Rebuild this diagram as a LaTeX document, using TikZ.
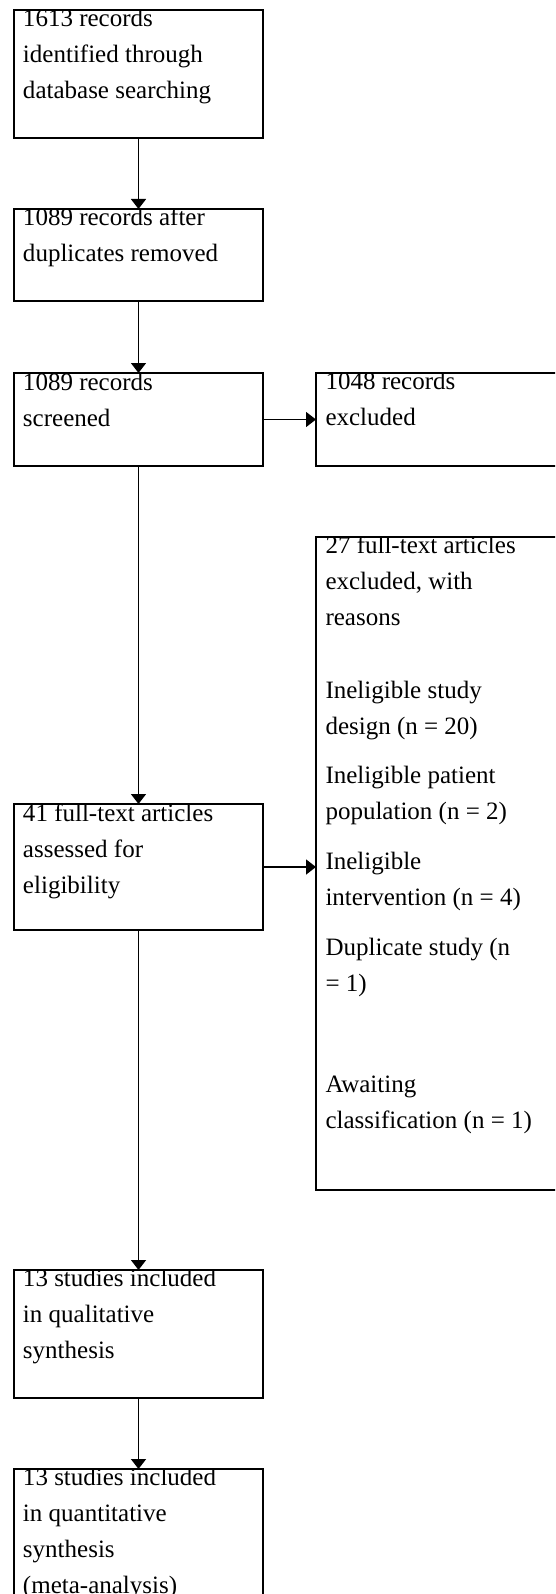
\documentclass[tikz,border=0pt]{standalone}
\usepackage{fontspec}
\setmainfont{Liberation Serif}
\usetikzlibrary{arrows.meta}
\newcommand{\flowtext}[1]{\parbox[t]{300pt}{\fontsize{25pt}{36pt}\selectfont\raggedright #1}}
\tikzset{
  flowbox/.style={draw, line width=1.5pt, rectangle, inner sep=0pt, outer sep=0pt, anchor=north west},
  boxlabel/.style={anchor=base west, inner sep=0pt, outer sep=0pt},
  flowarrow/.style={line width=1.5pt, -{Triangle[length=10pt,width=15pt]}}
}
\begin{document}
\begin{tikzpicture}[x=1pt,y=-1pt]
\useasboundingbox (0,0) rectangle (555,1594);
\clip (0,0) rectangle (555,1594);

\node[flowbox, minimum width=249pt, minimum height=128pt] (b1) at (14,10) {};
\node[flowbox, minimum width=249pt, minimum height=92pt]  (b2) at (14,209) {};
\node[flowbox, minimum width=249pt, minimum height=93pt]  (b3) at (14,373) {};
\node[flowbox, minimum width=300pt, minimum height=93pt]  (r1) at (316,373) {};
\node[flowbox, minimum width=300pt, minimum height=653pt] (r2) at (316,537) {};
\node[flowbox, minimum width=249pt, minimum height=126pt] (b4) at (14,804) {};
\node[flowbox, minimum width=249pt, minimum height=128pt] (b5) at (14,1270) {};
\node[flowbox, minimum width=249pt, minimum height=200pt] (b6) at (14,1469) {};

\begin{scope}
\clip (b1.north west) rectangle (b1.south east);
\node[boxlabel] (t1) at ([xshift=9pt,yshift=-16.5pt]b1.north west)
  {\flowtext{1613 records\\identified through\\database searching}};
\end{scope}
\begin{scope}
\clip (b2.north west) rectangle (b2.south east);
\node[boxlabel] (t2) at ([xshift=9pt,yshift=-17pt]b2.north west)
  {\flowtext{1089 records after\\duplicates removed}};
\end{scope}
\begin{scope}
\clip (b3.north west) rectangle (b3.south east);
\node[boxlabel] (t3) at ([xshift=9pt,yshift=-17pt]b3.north west)
  {\flowtext{1089 records\\screened}};
\end{scope}
\begin{scope}
\clip (r1.north west) rectangle (r1.south east);
\node[boxlabel] (tr1) at ([xshift=9.5pt,yshift=-16.5pt]r1.north west)
  {\flowtext{1048 records\\excluded}};
\end{scope}
\begin{scope}
\clip (r2.north west) rectangle (r2.south east);
\node[boxlabel] (tr2) at ([xshift=9.5pt,yshift=-16.5pt]r2.north west)
  {\flowtext{27 full-text articles\\excluded, with\\reasons\\[37pt]Ineligible study\\design (n = 20)\\[13pt]Ineligible patient\\population (n = 2)\\[14pt]Ineligible\\intervention (n = 4)\\[14pt]Duplicate study (n\\= 1)\\[65pt]Awaiting\\classification (n = 1)}};
\end{scope}
\begin{scope}
\clip (b4.north west) rectangle (b4.south east);
\node[boxlabel] (t4) at ([xshift=9pt,yshift=-17pt]b4.north west)
  {\flowtext{41 full-text articles\\assessed for\\eligibility}};
\end{scope}
\begin{scope}
\clip (b5.north west) rectangle (b5.south east);
\node[boxlabel] (t5) at ([xshift=9pt,yshift=-16.5pt]b5.north west)
  {\flowtext{13 studies included\\in qualitative\\synthesis}};
\end{scope}
\begin{scope}
\clip (b6.north west) rectangle (b6.south east);
\node[boxlabel] (t6) at ([xshift=9pt,yshift=-16.5pt]b6.north west)
  {\flowtext{13 studies included\\in quantitative\\synthesis\\(meta-analysis)}};
\end{scope}

\draw[flowarrow] (b1.south) -- (b2.north);
\draw[flowarrow] (b2.south) -- (b3.north);
\draw[flowarrow] (b3.south) -- (b4.north);
\draw[flowarrow] (b4.south) -- (b5.north);
\draw[flowarrow] (b5.south) -- (b6.north);
\draw[flowarrow] (b3.east) -- (b3.east -| r1.west);
\draw[flowarrow] (b4.east) -- (b4.east -| r2.west);
\end{tikzpicture}
\end{document}
